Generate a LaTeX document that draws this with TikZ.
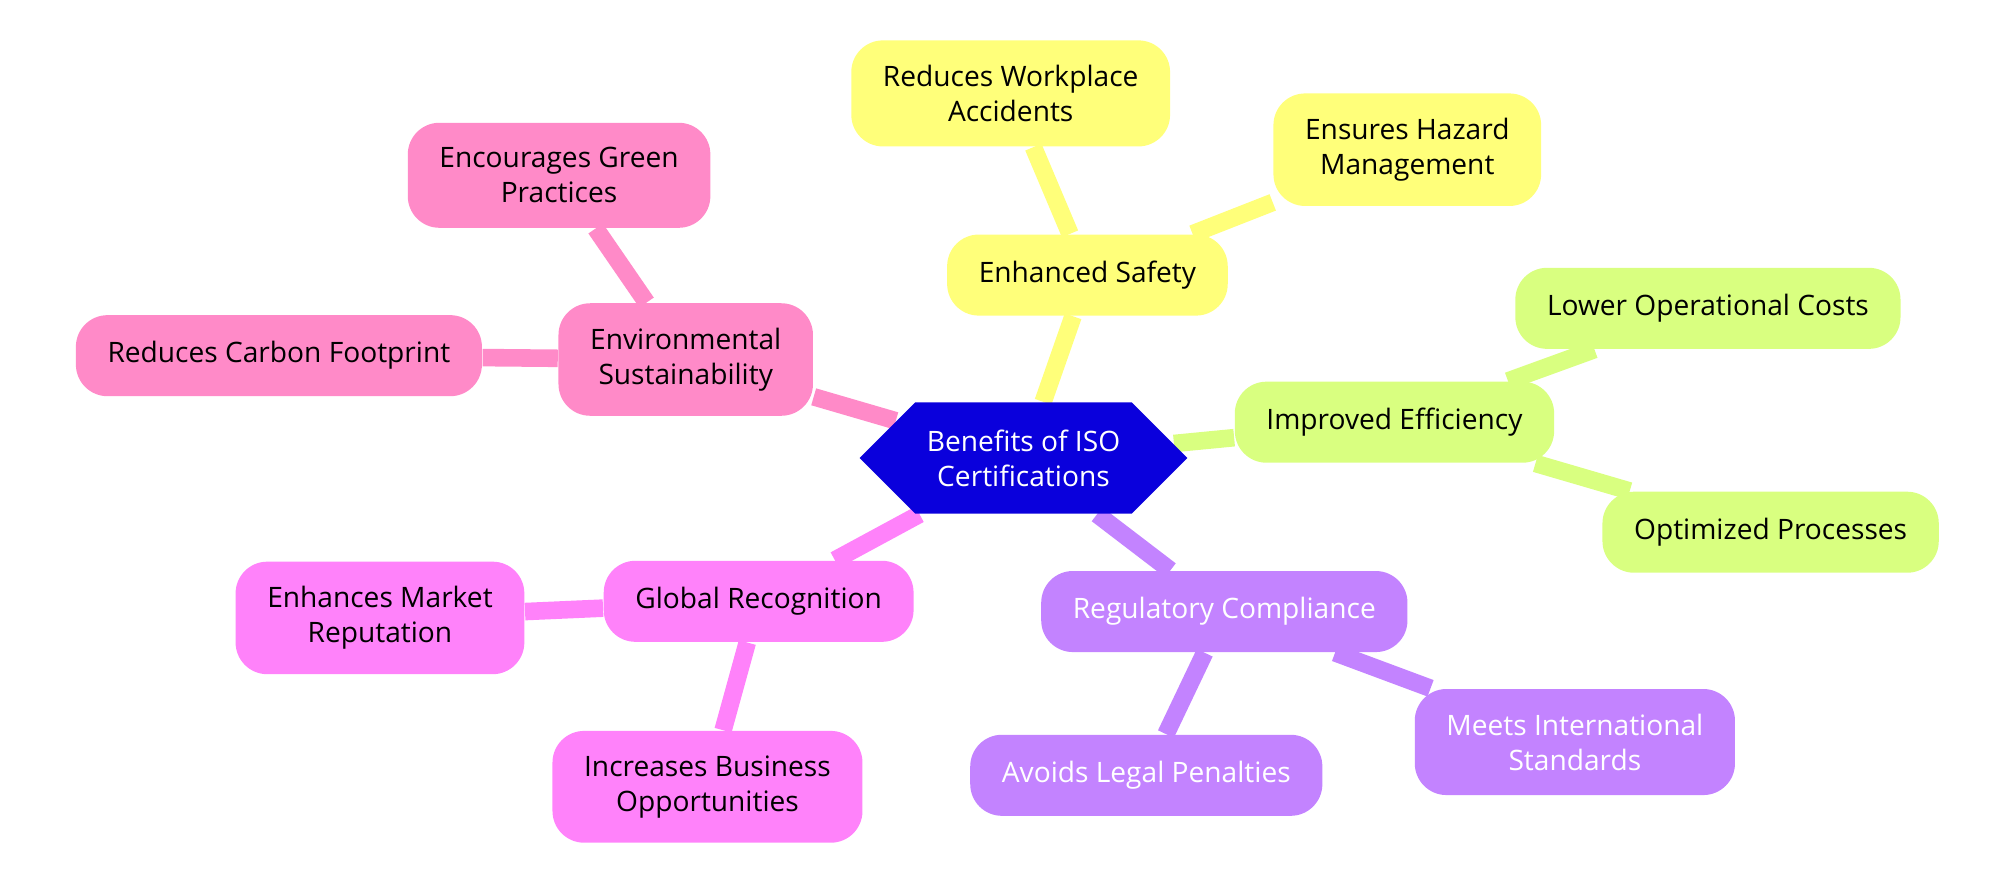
\documentclass[tikz,border=0pt]{standalone}
\usepackage{fontspec}
\setmainfont{Open Sans}
\usetikzlibrary{shapes.symbols,backgrounds}
\definecolor{hubblue}{HTML}{0A00DC}
\definecolor{safecol}{HTML}{FFFF7A}
\definecolor{effcol}{HTML}{D9FF80}
\definecolor{regcol}{HTML}{C383FF}
\definecolor{globcol}{HTML}{FF82FA}
\definecolor{envcol}{HTML}{FF8AC8}
\tikzset{
  topic/.style  = {rectangle, rounded corners=9pt, align=center,
                   inner xsep=9pt, inner ysep=7pt, minimum height=0.81cm,
                   font=\fontsize{8}{10}\selectfont},
  hub/.style    = {shape=signal, signal to=west and east, fill=hubblue,
                   text=white, align=center, minimum width=2.69cm,
                   minimum height=1.11cm, font=\fontsize{8}{10}\selectfont},
  branch/.style = {line width=5pt}
}
\begin{document}
\begin{tikzpicture}[x={(0.012793cm,0)}, y={(0,-0.012793cm)}]
  \useasboundingbox (0,0) rectangle (1568,691);

  \node[hub] (iso) at (800,358) {Benefits of ISO\\Certifications};

  % safety
  \node[topic, fill=safecol] (safety) at (850,215) {Enhanced Safety};
  \node[topic, fill=safecol] (accid) at (790,73) {Reduces Workplace\\Accidents};
  \node[topic, fill=safecol] (hazard) at (1100,117) {Ensures Hazard\\Management};

  % efficiency
  \node[topic, fill=effcol] (effic) at (1090,330) {Improved Efficiency};
  \node[topic, fill=effcol] (costs) at (1335,241) {Lower Operational Costs};
  \node[topic, fill=effcol] (optim) at (1384,416) {Optimized Processes};

  % regulation
  \node[topic, fill=regcol, text=white] (regul) at (957,478) {Regulatory Compliance};
  \node[topic, fill=regcol, text=white] (intl) at (1231,580) {Meets International\\Standards};
  \node[topic, fill=regcol, text=white] (legal) at (896,606) {Avoids Legal Penalties};

  % recognition
  \node[topic, fill=globcol] (global) at (593,470) {Global Recognition};
  \node[topic, fill=globcol] (market) at (297,483) {Enhances Market\\Reputation};
  \node[topic, fill=globcol] (busin) at (553,615) {Increases Business\\Opportunities};

  % environment
  \node[topic, fill=envcol] (envir) at (536,281) {Environmental\\Sustainability};
  \node[topic, fill=envcol] (green) at (437,137) {Encourages Green\\Practices};
  \node[topic, fill=envcol] (carbon) at (218,278) {Reduces Carbon Footprint};

  \begin{pgfonlayer}{background}
    \draw[branch, safecol] (iso) -- (safety) (safety) -- (accid) (safety) -- (hazard);
    \draw[branch, effcol] (iso) -- (effic) (effic) -- (costs) (effic) -- (optim);
    \draw[branch, regcol] (iso) -- (regul) (regul) -- (intl) (regul) -- (legal);
    \draw[branch, globcol] (iso) -- (global) (global) -- (market) (global) -- (busin);
    \draw[branch, envcol] (iso) -- (envir) (envir) -- (green) (envir) -- (carbon);
  \end{pgfonlayer}
\end{tikzpicture}
\end{document}
